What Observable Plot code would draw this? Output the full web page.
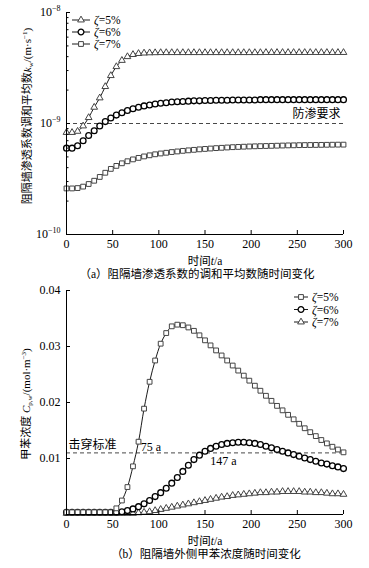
<!DOCTYPE html>
<html><head><meta charset="utf-8">
<script src="https://cdn.jsdelivr.net/npm/d3@7"></script>
<script src="https://cdn.jsdelivr.net/npm/@observablehq/plot@0.6"></script>
<style>
body{margin:0;background:#fff;}
#root{position:relative;width:369px;height:568px;overflow:hidden;font-family:"Liberation Serif","Noto Sans CJK SC",serif;color:#000;}
.blk{position:absolute;left:0;}
.cap{position:absolute;white-space:nowrap;transform:translate(-50%,-50%);font-size:11.5px;line-height:1;}
.ylab{position:absolute;white-space:nowrap;transform:translate(-50%,-50%) rotate(-90deg);font-size:11px;line-height:1;}
sub{font-size:7px;vertical-align:-2px;line-height:0}
sup{font-size:7px;vertical-align:4px;line-height:0}
.leg{position:absolute;overflow:visible}
</style></head><body><div id="root"></div>
<script>
// ---------- data ----------
const years = [0,6,12,18,24,30,36,42,48,54,60,66,72,78,84,90,96,102,108,114,120,126,132,138,144,150,156,162,168,174,180,186,192,198,204,210,216,222,228,234,240,246,252,258,264,270,276,282,288,294,300];

// (a) harmonic mean permeability k_w (m/s)
const kZeta5 = [0.83e-9,0.83e-9,0.85e-9,0.95e-9,1.13e-9,1.40e-9,1.70e-9,2.15e-9,2.70e-9,3.25e-9,3.70e-9,4.00e-9,4.18e-9,4.27e-9,4.31e-9,4.33e-9,4.34e-9,4.35e-9,4.35e-9,4.35e-9,4.35e-9,4.35e-9,4.35e-9,4.35e-9,4.35e-9,4.35e-9,4.35e-9,4.35e-9,4.35e-9,4.35e-9,4.35e-9,4.35e-9,4.35e-9,4.35e-9,4.35e-9,4.35e-9,4.36e-9,4.36e-9,4.36e-9,4.36e-9,4.36e-9,4.36e-9,4.36e-9,4.36e-9,4.36e-9,4.36e-9,4.36e-9,4.36e-9,4.36e-9,4.36e-9,4.36e-9];
const kZeta6 = [0.60e-9,0.60e-9,0.63e-9,0.70e-9,0.78e-9,0.86e-9,0.95e-9,1.04e-9,1.12e-9,1.19e-9,1.25e-9,1.31e-9,1.36e-9,1.40e-9,1.44e-9,1.47e-9,1.50e-9,1.52e-9,1.54e-9,1.56e-9,1.57e-9,1.58e-9,1.59e-9,1.60e-9,1.60e-9,1.61e-9,1.61e-9,1.62e-9,1.62e-9,1.62e-9,1.63e-9,1.63e-9,1.63e-9,1.63e-9,1.63e-9,1.64e-9,1.64e-9,1.64e-9,1.64e-9,1.64e-9,1.64e-9,1.64e-9,1.64e-9,1.64e-9,1.64e-9,1.64e-9,1.64e-9,1.64e-9,1.64e-9,1.64e-9,1.64e-9];
const kZeta7 = [2.60e-10,2.60e-10,2.62e-10,2.70e-10,2.85e-10,3.05e-10,3.30e-10,3.60e-10,3.90e-10,4.15e-10,4.38e-10,4.57e-10,4.75e-10,4.90e-10,5.05e-10,5.17e-10,5.28e-10,5.37e-10,5.45e-10,5.53e-10,5.60e-10,5.67e-10,5.73e-10,5.79e-10,5.85e-10,5.90e-10,5.95e-10,6.00e-10,6.04e-10,6.08e-10,6.12e-10,6.15e-10,6.18e-10,6.21e-10,6.23e-10,6.25e-10,6.27e-10,6.29e-10,6.31e-10,6.33e-10,6.35e-10,6.36e-10,6.38e-10,6.39e-10,6.40e-10,6.41e-10,6.42e-10,6.43e-10,6.44e-10,6.45e-10,6.45e-10];
const kRequirement = 1e-9;

// (b) toluene concentration outside the wall (mol/m3)
const cZeta5 = [0.0004,0.0004,0.0004,0.0004,0.0004,0.0004,0.0004,0.0004,0.0004,0.0011,0.0025,0.0049,0.0086,0.0130,0.0189,0.0237,0.0275,0.0305,0.0324,0.0336,0.0339,0.0338,0.0334,0.0328,0.0320,0.0311,0.0302,0.0293,0.0284,0.0275,0.0266,0.0257,0.0248,0.0239,0.0230,0.0221,0.0212,0.0203,0.0194,0.0186,0.0178,0.0170,0.0162,0.0154,0.0147,0.0140,0.0133,0.0127,0.0121,0.0116,0.0111];
const cZeta6 = [0.0004,0.0004,0.0004,0.0004,0.0004,0.0004,0.0004,0.0004,0.0004,0.0004,0.0005,0.0007,0.0010,0.0014,0.0019,0.0025,0.0032,0.0039,0.0047,0.0056,0.0066,0.0077,0.0088,0.0098,0.0106,0.0113,0.0118,0.0122,0.0125,0.0127,0.0128,0.0129,0.0129,0.0128,0.0127,0.0125,0.0122,0.0119,0.0116,0.0113,0.0110,0.0107,0.0104,0.0101,0.0098,0.0095,0.0092,0.0090,0.0087,0.0085,0.0082];
const cZeta7 = [0.0002,0.0002,0.0002,0.0002,0.0002,0.0002,0.0002,0.0002,0.0002,0.0002,0.0002,0.0002,0.0002,0.0003,0.0004,0.0005,0.0007,0.0009,0.0011,0.0013,0.0015,0.0017,0.0019,0.0021,0.0023,0.0025,0.0027,0.0029,0.0031,0.0032,0.0034,0.0035,0.0036,0.0037,0.0038,0.0039,0.0039,0.0040,0.0040,0.0041,0.0041,0.0041,0.0041,0.0040,0.0040,0.0039,0.0039,0.0038,0.0037,0.0037,0.0036];
const cStandard = 0.011;
const breakthrough = [{t:75, label:"75 a"}, {t:147, label:"147 a"}];

// ticks & labels
const xTicks = [0,50,100,150,200,250,300];
const xTickLabels = ["0","50","100","150","200","250","300"];
const yTicksA = [1e-10,1e-9,1e-8];
const yTickLabelsA = ["10^−10","10^−9","10^−8"];
const yMinorA = [2e-10,3e-10,4e-10,5e-10,6e-10,7e-10,8e-10,9e-10,2e-9,3e-9,4e-9,5e-9,6e-9,7e-9,8e-9,9e-9];
const yTicksB = [0.01,0.02,0.03,0.04];
const yTickLabelsB = ["0.01","0.02","0.03","0.04"];
const legendA = ["ζ=5%","ζ=6%","ζ=7%"];
const legendB = ["ζ=5%","ζ=6%","ζ=7%"];

// ---------- drawing ----------
const FONT = "'Liberation Serif','Noto Sans CJK SC',serif";
const CJK = "'Noto Sans CJK SC',sans-serif";
const root = document.getElementById("root");
const rows = vals => years.map((t,i)=>({t, v: vals[i]}));
const styleSym = {
  triangle:{symbol:"triangle", r:2.5, stroke:"#444", strokeWidth:1},
  circle:{symbol:"circle", r:2.9, stroke:"#000", strokeWidth:1.3},
  square:{symbol:"square", r:2.7, stroke:"#444", strokeWidth:1}
};
function seriesMarks(vals, kind){
  const s = styleSym[kind];
  return [
    Plot.line(rows(vals), {x:"t", y:"v", stroke:"#000", strokeWidth:0.9, curve:"catmull-rom"}),
    Plot.dot(rows(vals), {x:"t", y:"v", symbol:s.symbol, r:s.r, fill:"#fff", stroke:s.stroke, strokeWidth:s.strokeWidth})
  ];
}
function axes(yTicks, yFmt, minor){
  const m = [
    Plot.axisX({ticks:xTicks, tickSize:-4, tickPadding:9, tickFormat:d=>xTickLabels[xTicks.indexOf(d)], label:null}),
    Plot.axisY({ticks:yTicks, tickSize:-4, tickPadding:10, tickFormat:yFmt, label:null})
  ];
  if (minor) m.push(Plot.axisY({ticks:minor, tickSize:-2.5, tickPadding:0, tickFormat:()=>"", label:null}));
  return m;
}

const chartA = Plot.plot({
  width:369, height:252, marginTop:12, marginBottom:18, marginLeft:66, marginRight:26,
  style:{fontFamily:FONT, fontSize:"12px", color:"#000", background:"transparent", overflow:"visible"},
  x:{domain:[0,300]},
  y:{type:"log", domain:[1e-10,1e-8]},
  marks:[
    Plot.ruleY([kRequirement], {stroke:"#333", strokeWidth:0.9, strokeDasharray:"4,3"}),
    Plot.text([{t:300, v:kRequirement, s:"防渗要求"}], {x:"t", y:"v", text:"s", textAnchor:"end", dx:-3, dy:-9, fontSize:12, fontFamily:CJK}),
    ...seriesMarks(kZeta7, "square"),
    ...seriesMarks(kZeta6, "circle"),
    ...seriesMarks(kZeta5, "triangle"),
    ...axes(yTicksA, d=>yTickLabelsA[yTicksA.indexOf(d)], yMinorA),
    Plot.ruleX([0], {stroke:"#000"}),
    Plot.ruleY([1e-10], {stroke:"#000"})
  ]
});
chartA.classList.add("blk"); chartA.style.top = "0px";
root.appendChild(chartA);
// superscript exponents on the log axis labels
chartA.querySelectorAll("text").forEach(t=>{
  const s = t.textContent;
  if (s.includes("^")) {
    const [b,e] = s.split("^");
    t.textContent = b;
    const ts = document.createElementNS("http://www.w3.org/2000/svg","tspan");
    ts.setAttribute("dy","-5"); ts.setAttribute("font-size","8");
    ts.textContent = e; t.appendChild(ts);
  }
});

const chartB = Plot.plot({
  width:369, height:252, marginTop:10, marginBottom:18, marginLeft:66, marginRight:26,
  style:{fontFamily:FONT, fontSize:"12px", color:"#000", background:"transparent", overflow:"visible"},
  x:{domain:[0,300]},
  y:{domain:[0,0.04]},
  marks:[
    Plot.ruleY([cStandard], {stroke:"#333", strokeWidth:0.9, strokeDasharray:"4,3"}),
    Plot.text([{t:0, v:cStandard, s:"击穿标准"}], {x:"t", y:"v", text:"s", textAnchor:"start", dx:2, dy:-8, fontSize:12, fontFamily:CJK}),
    ...seriesMarks(cZeta7, "triangle"),
    ...seriesMarks(cZeta6, "circle"),
    ...seriesMarks(cZeta5, "square"),
    Plot.text([breakthrough[0]], {x:"t", y:()=>cStandard, text:"label", textAnchor:"start", dx:5, dy:-6, fontSize:12}),
    Plot.text([breakthrough[1]], {x:"t", y:()=>cStandard, text:"label", textAnchor:"start", dx:8, dy:8, fontSize:12}),
    ...axes(yTicksB, d=>yTickLabelsB[yTicksB.indexOf(d)], null),
    Plot.ruleX([0], {stroke:"#000"}),
    Plot.ruleY([0], {stroke:"#000"})
  ]
});
chartB.classList.add("blk"); chartB.style.top = "280px";
root.appendChild(chartB);

// ---------- legends ----------
function legend(left, top, labels, kinds, lineLen, gap){
  const NS = "http://www.w3.org/2000/svg";
  const svg = document.createElementNS(NS,"svg");
  svg.setAttribute("class","leg");
  svg.setAttribute("width", 90); svg.setAttribute("height", 40);
  svg.style.left = left+"px"; svg.style.top = top+"px";
  labels.forEach((lab,i)=>{
    const y = 6 + i*gap;
    const s = styleSym[kinds[i]];
    const ln = document.createElementNS(NS,"line");
    ln.setAttribute("x1",0); ln.setAttribute("x2",lineLen); ln.setAttribute("y1",y); ln.setAttribute("y2",y);
    ln.setAttribute("stroke","#000"); ln.setAttribute("stroke-width","0.9");
    svg.appendChild(ln);
    const sym = {triangle:d3.symbolTriangle, circle:d3.symbolCircle, square:d3.symbolSquare}[kinds[i]];
    const p = document.createElementNS(NS,"path");
    p.setAttribute("d", d3.symbol(sym, s.r*s.r*Math.PI)());
    p.setAttribute("transform",`translate(${lineLen/2},${y})`);
    p.setAttribute("fill","#fff"); p.setAttribute("stroke",s.stroke); p.setAttribute("stroke-width",s.strokeWidth);
    svg.appendChild(p);
    const tx = document.createElementNS(NS,"text");
    tx.setAttribute("x", lineLen+4); tx.setAttribute("y", y+4);
    tx.setAttribute("font-family", FONT); tx.setAttribute("font-size", "11.5");
    const z = document.createElementNS(NS,"tspan"); z.setAttribute("font-style","italic"); z.textContent = lab.slice(0,1);
    tx.appendChild(z);
    tx.appendChild(document.createTextNode(lab.slice(1)));
    svg.appendChild(tx);
  });
  root.appendChild(svg);
}
legend(72, 14, legendA, ["triangle","circle","square"], 18, 12);
legend(294, 291, legendB, ["square","circle","triangle"], 14, 12.5);

// ---------- labels & captions ----------
function addDiv(cls, html, x, y){
  const d = document.createElement("div");
  d.className = cls; d.innerHTML = html;
  d.style.left = x+"px"; d.style.top = y+"px";
  root.appendChild(d);
}
addDiv("ylab", "阻隔墙渗透系数调和平均数<i>k</i><sub>w</sub>/(m·s<sup>−1</sup>)", 27, 116);
addDiv("ylab", "甲苯浓度 <i>C</i><sub>p,w</sub>/(mol·m<sup>−3</sup>)", 26, 404);
addDiv("cap", "时间<i>t</i>/a", 205, 262);
addDiv("cap", "（a）阻隔墙渗透系数的调和平均数随时间变化", 197, 275);
addDiv("cap", "时间<i>t</i>/a", 205, 542);
addDiv("cap", "（b）阻隔墙外侧甲苯浓度随时间变化", 206, 555);
</script></body></html>
